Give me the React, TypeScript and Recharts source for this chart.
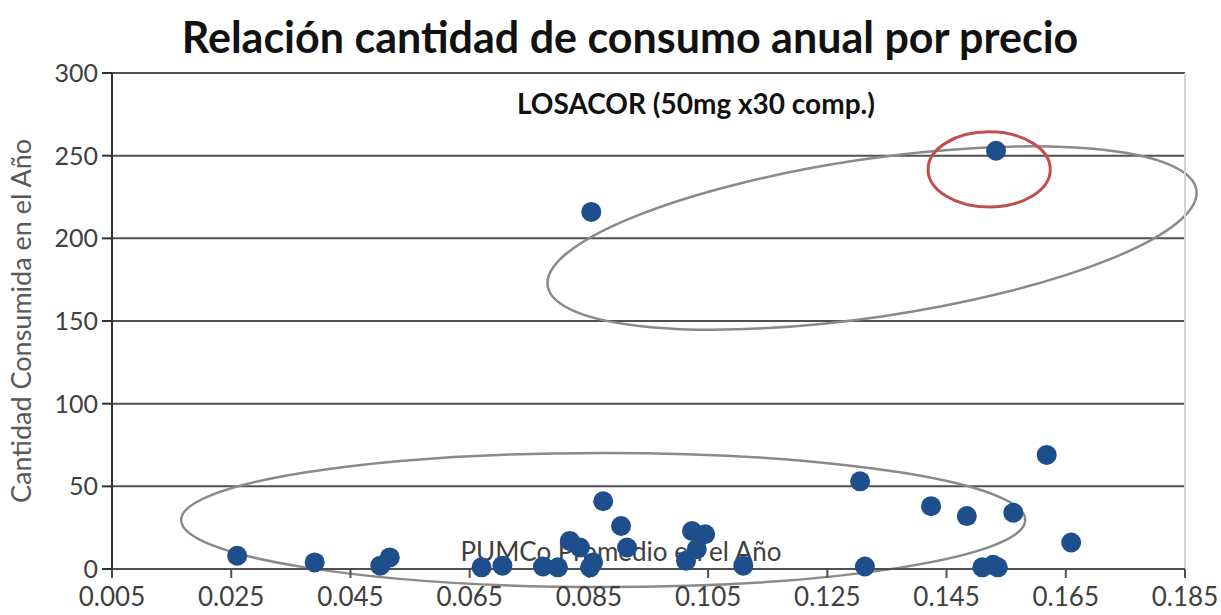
import {
  CartesianGrid,
  ReferenceArea,
  ReferenceLine,
  Scatter,
  ScatterChart,
  XAxis,
  YAxis,
} from "recharts";

// PUMCo promedio en el año (x) y cantidad consumida (y)
const precio = [
  0.026, 0.039, 0.05, 0.0516, 0.067, 0.0705, 0.0773, 0.0798, 0.0818, 0.0835,
  0.0852, 0.0857, 0.0874, 0.0904, 0.0914, 0.1013, 0.1023, 0.1031, 0.1045,
  0.1109, 0.1305, 0.1313, 0.1424, 0.1484, 0.1562, 0.1618, 0.1659, 0.151,
  0.1528, 0.1536, 0.0854, 0.1533,
];
const cantidad = [
  8, 4, 2, 7, 1, 2, 1.5, 1, 17, 13, 1, 4, 41, 26, 13, 5, 23, 12, 21, 2, 53,
  1.5, 38, 32, 34, 69, 16, 1, 2.5, 1, 216, 253,
];

const xTicks = [0.005, 0.025, 0.045, 0.065, 0.085, 0.105, 0.125, 0.145, 0.165, 0.185];
const yTicks = [0, 50, 100, 150, 200, 250, 300];

const title = "Relación cantidad de consumo anual por precio";
const nota = "LOSACOR (50mg x30 comp.)";
const xLabel = "PUMCo Promedio en el Año";
const yLabel = "Cantidad Consumida en el Año";

const puntos = precio.map((x, i) => ({ x, y: cantidad[i] }));

const font = "Lato, 'Open Sans', sans-serif";

function Ellipse(props: any) {
  const { x, y, width, height, stroke, strokeWidth, angle = 0 } = props;
  const cx = x + width / 2;
  const cy = y + height / 2;
  return (
    <ellipse
      cx={cx}
      cy={cy}
      rx={Math.abs(width / 2)}
      ry={Math.abs(height / 2)}
      fill="none"
      stroke={stroke}
      strokeWidth={strokeWidth}
      transform={`rotate(${angle} ${cx} ${cy})`}
    />
  );
}

function Dot(props: any) {
  return <circle cx={props.cx} cy={props.cy} r={10} fill="#1f4e8c" />;
}

export default function App() {
  return (
    <div style={{ position: "relative", width: 1221, height: 615 }}>
      <style>{`body{margin:0;overflow:hidden}`}</style>
      <ScatterChart
        width={1221}
        height={615}
        margin={{ top: 73, right: 36, bottom: 6, left: 52 }}
      >
        <CartesianGrid horizontal vertical={false} stroke="#505050" strokeWidth={2} />
        <XAxis
          type="number"
          dataKey="x"
          domain={[0.005, 0.185]}
          ticks={xTicks}
          tickFormatter={(v: number) => v.toFixed(3)}
          height={40}
          tickSize={9}
          tickMargin={10}
          stroke="#505050"
          strokeWidth={2}
          tick={{ fill: "#404040", fontSize: 26, fontFamily: font }}
          allowDataOverflow
        />
        <YAxis
          type="number"
          dataKey="y"
          domain={[0, 300]}
          ticks={yTicks}
          width={60}
          tickSize={10}
          tickMargin={4}
          stroke="#303030"
          strokeWidth={2}
          tick={{ fill: "#404040", fontSize: 25, fontFamily: font }}
        />
        <ReferenceLine x={0.185} stroke="#d4d4d4" strokeWidth={2} />
        <text
          x={621}
          y={561}
          textAnchor="middle"
          fill="#404040"
          fontSize={26}
          fontFamily={font}
        >
          {xLabel}
        </text>
        <ReferenceArea
          x1={0.0166}
          x2={0.1582}
          y1={-10.9}
          y2={70.2}
          ifOverflow="visible"
          shape={(p: any) => <Ellipse {...p} stroke="#8a8a8a" strokeWidth={2.5} />}
        />
        <ReferenceArea
          x1={0.0775}
          x2={0.1875}
          y1={152.4}
          y2={248}
          ifOverflow="visible"
          shape={(p: any) => <Ellipse {...p} stroke="#8a8a8a" strokeWidth={2.5} angle={-8.4} />}
        />
        <ReferenceArea
          x1={0.1419}
          x2={0.1624}
          y1={219}
          y2={264.4}
          ifOverflow="visible"
          shape={(p: any) => <Ellipse {...p} stroke="#c0504d" strokeWidth={3} />}
        />
        <Scatter data={puntos} shape={Dot} isAnimationActive={false} />
        <text
          x={630}
          y={53}
          textAnchor="middle"
          fill="#111"
          fontSize={43}
          fontWeight="bold"
          fontFamily={font}
        >
          {title}
        </text>
        <text x={517} y={114} fill="#111" fontSize={28} fontWeight="bold" fontFamily={font}>
          {nota}
        </text>
        <text
          x={31}
          y={321}
          textAnchor="middle"
          fill="#595959"
          fontSize={27}
          fontFamily={font}
          transform="rotate(-90 31 321)"
        >
          {yLabel}
        </text>
      </ScatterChart>
    </div>
  );
}
